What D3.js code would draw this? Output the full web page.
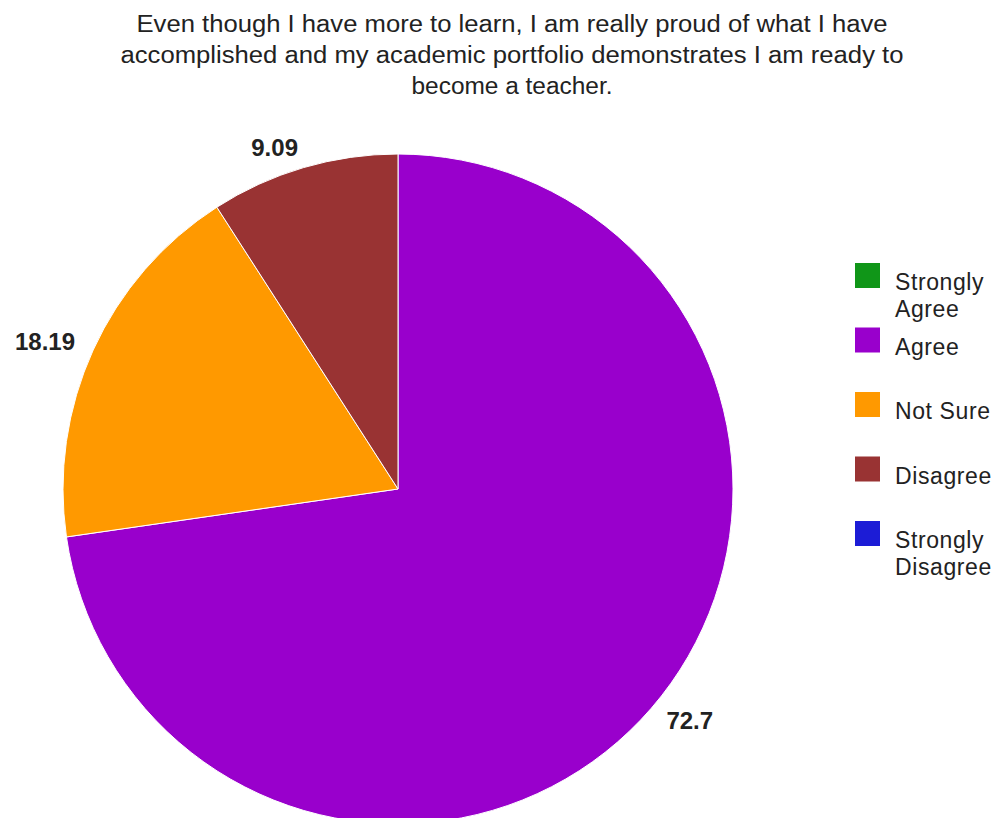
<!DOCTYPE html>
<html>
<head>
<meta charset="utf-8">
<script src="https://cdn.jsdelivr.net/npm/d3@7"></script>
<style>
  body { margin: 0; background: #fff; }
  svg { display: block; font-family: "Liberation Sans", Arial, sans-serif; }
</style>
</head>
<body>
<div id="chart"></div>
<script>
// chart data
var categories = ["Strongly Agree", "Agree", "Not Sure", "Disagree", "Strongly Disagree"];
var values = [0, 72.7, 18.19, 9.09, 0];
var valueLabels = ["", "72.7", "18.19", "9.09", ""];
var colors = ["#109618", "#9900cc", "#ff9900", "#993333", "#1c1cd6"];
var titleLines = [
    "Even though I have more to learn, I am really proud of what I have",
    "accomplished and my academic portfolio demonstrates I am ready to",
    "become a teacher."
];

var width = 1001, height = 818;
var cx = 398, cy = 489, radius = 335;

var svg = d3.select("#chart").append("svg")
    .attr("width", width)
    .attr("height", height);

// title
var titleWidths = [751, 783, 201];
svg.append("g").selectAll("text")
    .data(titleLines)
    .enter().append("text")
    .attr("x", 512)
    .attr("y", function (d, i) { return 32 + i * 31; })
    .attr("text-anchor", "middle")
    .attr("font-size", 23)
    .attr("fill", "#222")
    .attr("textLength", function (d, i) { return titleWidths[i]; })
    .attr("lengthAdjust", "spacingAndGlyphs")
    .text(function (d) { return d; });

// pie
var pie = d3.pie().sort(null).value(function (d) { return d; });
var arcs = pie(values);
var arc = d3.arc().innerRadius(0).outerRadius(radius);

var g = svg.append("g").attr("transform", "translate(" + cx + "," + cy + ")");

g.selectAll(".slice")
    .data(arcs)
    .enter().append("path")
    .attr("class", "slice")
    .attr("d", arc)
    .attr("fill", function (d, i) { return colors[i]; })
    .attr("stroke", "#fff")
    .attr("stroke-width", function (d) { return d.value > 0 ? 1 : 0; });

// value labels outside the pie
var labelR = radius + 20;
g.selectAll(".vlabel")
    .data(arcs.filter(function (d) { return d.value > 0; }))
    .enter().append("text")
    .attr("class", "vlabel")
    .attr("x", function (d) { var a = (d.startAngle + d.endAngle) / 2; return Math.sin(a) * labelR; })
    .attr("y", function (d) { var a = (d.startAngle + d.endAngle) / 2; return -Math.cos(a) * labelR + 8; })
    .attr("text-anchor", function (d) { var a = (d.startAngle + d.endAngle) / 2; return Math.sin(a) >= 0 ? "start" : "end"; })
    .attr("font-size", 24)
    .attr("font-weight", "bold")
    .attr("fill", "#222")
    .text(function (d) { return valueLabels[d.index]; });

// legend
var legendY = d3.scalePoint().domain(categories).range([263, 521]);
var legend = svg.append("g").selectAll(".legend")
    .data(categories)
    .enter().append("g")
    .attr("class", "legend")
    .attr("transform", function (d) { return "translate(855," + legendY(d) + ")"; });

legend.append("rect")
    .attr("width", 25)
    .attr("height", 25)
    .attr("fill", function (d, i) { return colors[i]; });

legend.append("text")
    .attr("x", 40)
    .attr("y", 27)
    .attr("font-size", 23)
    .attr("letter-spacing", 0.6)
    .attr("fill", "#222")
    .each(function (d) {
        var words = d.split(" ");
        var t = d3.select(this);
        if (words.length > 1 && d !== "Not Sure") {
            t.append("tspan").attr("x", 40).attr("dy", 0).text(words[0]);
            t.append("tspan").attr("x", 40).attr("dy", 27).text(words[1]);
        } else {
            t.text(d);
        }
    });
</script>
</body>
</html>
